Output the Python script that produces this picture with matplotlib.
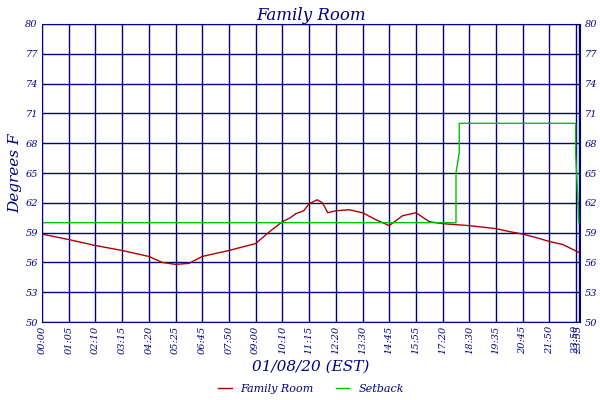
import matplotlib
matplotlib.use("Agg")
import matplotlib.pyplot as plt
import numpy as np

# x is sample index scale: each tick label sits at an integer position
tick_labels = ["00:00", "01:05", "02:10", "03:15", "04:20", "05:25", "06:45",
               "07:50", "09:00", "10:10", "11:15", "12:20", "13:30", "14:45",
               "15:55", "17:20", "18:30", "19:35", "20:45", "21:50", "23:50", "23:55"]
tick_pos = list(range(20)) + [19.98, 20.1]

room_x = [0, 1, 2, 3, 4, 4.5, 5, 5.5, 6, 7, 8, 8.5, 9, 9.3, 9.5, 9.8, 10, 10.3,
          10.5, 10.7, 11, 11.5, 12, 12.5, 13, 13.5, 14, 14.5, 15, 16, 17, 17.5,
          18, 18.5, 19, 19.5, 20.1]
room_y = [58.85, 58.3, 57.7, 57.2, 56.6, 56.0, 55.8, 55.9, 56.6, 57.2, 57.9, 59.05,
          60.1, 60.5, 60.9, 61.2, 61.9, 62.3, 62.0, 61.0, 61.2, 61.3, 61.0, 60.3,
          59.7, 60.7, 61.0, 60.1, 59.9, 59.7, 59.4, 59.1, 58.85, 58.5, 58.1, 57.8, 57.0]

setback_x = [0, 15.5, 15.5, 15.62, 15.62, 19.98, 19.98, 20.1]
setback_y = [60, 60, 65, 67, 70, 70, 67, 60]

navy = "#000080"
font = {"family": "DejaVu Serif", "style": "italic", "color": navy}

fig = plt.figure(figsize=(6, 4), dpi=100)
ax = fig.add_axes([0.07, 0.195, 0.897, 0.745])
ax.plot(room_x, room_y, color="#b00000", lw=1, label="Family Room")
ax.plot(setback_x, setback_y, color="#00c000", lw=1, label="Setback")

ax.set_xlim(0, 20.15)
ax.set_ylim(50, 80)
yt = np.arange(50, 81, 3)
ax.set_yticks(yt)
ax.set_xticks(tick_pos)
ax.set_xticklabels(tick_labels, rotation=90, fontsize=7, **font)
ax.set_yticklabels([str(v) for v in yt], fontsize=7, **font)
ax.tick_params(length=0, pad=3, right=True, labelright=True)
ax.grid(True, color=navy, lw=1)
for s in ax.spines.values():
    s.set_color(navy)

ax.set_title("Family Room", fontsize=12, pad=3, **font)
ax.set_ylabel("Degrees F", fontsize=11, labelpad=2, **font)
ax.set_xlabel("01/08/20 (EST)", fontsize=11, labelpad=4, **font)

leg = ax.legend(loc="center", bbox_to_anchor=(0.5, -0.225), ncol=2,
                frameon=False, handlelength=1.2,
                prop={"family": "DejaVu Serif", "style": "italic", "size": 8})
for t in leg.get_texts():
    t.set_color(navy)

fig.savefig("out.png", dpi=100)
